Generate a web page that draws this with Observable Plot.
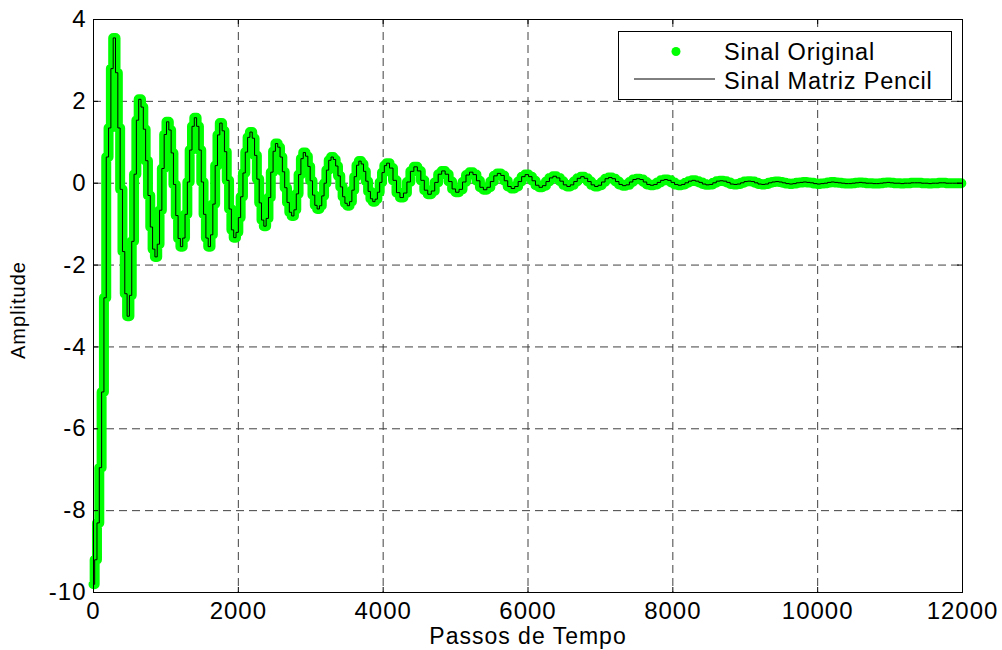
<!DOCTYPE html>
<html>
<head>
<meta charset="utf-8">
<script src="https://cdn.jsdelivr.net/npm/d3@7"></script>
<script src="https://cdn.jsdelivr.net/npm/@observablehq/plot@0.6"></script>
<style>
  html, body { margin: 0; padding: 0; background: #fff; }
  #wrap { position: relative; width: 1002px; height: 650px; overflow: hidden; background: #fff; }
  #legend { position: absolute; left: 618px; top: 31px; width: 334px; height: 69px; box-sizing: border-box;
            border: 1px solid #000; background: #fff; }
  #legend svg { position: absolute; left: 0; top: 0; }
</style>
</head>
<body>
<div id="wrap"></div>
<script>
// Sampled signal, first part: one sample every 32 time steps, starting at 0
const earlySignal = [
  -9.8, -9.2, -8.3, -6.95, -5.1, -2.8, 0.64, 1.35, 2.8, 3.55,
  2.7, 1.35, -0.15, -1.67, -2.7, -3.25,
  -2.74, -1.42, 0.22, 1.54, 2.05,
  1.86, 1.32, 0.55, -0.30, -1.07, -1.61, -1.8,
  -1.49, -0.66, 0.36, 1.19, 1.5,
  1.30, 0.74, -0.03, -0.79, -1.35, -1.55,
  -1.34, -0.76, 0.03, 0.81, 1.39, 1.6,
  1.39, 0.81, 0.03, -0.76, -1.34, -1.55,
  -1.26, -0.51, 0.43, 1.18, 1.47,
  1.28, 0.77, 0.07, -0.63, -1.14, -1.33,
  -1.20, -0.84, -0.33, 0.25, 0.76, 1.12, 1.25,
  1.10, 0.68, 0.10, -0.48, -0.90, -1.05,
  -0.86, -0.35, 0.27, 0.78, 0.97,
  0.88, 0.64, 0.28, -0.11, -0.47, -0.71, -0.8,
  -0.65, -0.26, 0.21, 0.60, 0.75,
  0.66, 0.41, 0.06, -0.29, -0.54, -0.63,
  -0.55, -0.31, 0.00, 0.32, 0.56, 0.64,
  0.58, 0.42, 0.18, -0.09, -0.33, -0.49, -0.55,
  -0.45, -0.17, 0.16, 0.44, 0.54,
  0.47, 0.29, 0.05, -0.20, -0.38, -0.45,
  -0.39, -0.22, 0.02, 0.26, 0.43, 0.49
];
const earlyStep = 32;

// Sampled signal, second part: one sample every 48 time steps, starting at 4112
const lateSignal = [
  0.37, 0.07, -0.23, -0.35, -0.24, 0.03, 0.29, 0.40,
  0.30, 0.07, -0.17, -0.27, -0.19, 0.02, 0.22, 0.30,
  0.22, 0.04, -0.14, -0.22, -0.15, 0.03, 0.20, 0.27,
  0.21, 0.06, -0.10, -0.16, -0.10, 0.04, 0.18, 0.24,
  0.19, 0.06, -0.08, -0.13, -0.08, 0.04, 0.16, 0.21,
  0.16, 0.06, -0.05, -0.10, -0.06, 0.04, 0.13, 0.17,
  0.13, 0.05, -0.04, -0.08, -0.04, 0.04, 0.12, 0.16,
  0.12, 0.04, -0.04, -0.08, -0.05, 0.03, 0.11, 0.14,
  0.11, 0.04, -0.03, -0.06, -0.04, 0.03, 0.09, 0.11,
  0.09, 0.03, -0.03, -0.05, -0.03, 0.02, 0.07, 0.09,
  0.07, 0.02, -0.03, -0.05, -0.03, 0.01, 0.05, 0.07,
  0.05, 0.02, -0.02, -0.04, -0.03, 0.01, 0.05, 0.06,
  0.05, 0.02, -0.02, -0.03, -0.02, 0.01, 0.04, 0.05,
  0.04, 0.01, -0.02, -0.03, -0.02, 0.01, 0.03, 0.04,
  0.03, 0.01, -0.01, -0.02, -0.01, 0.01, 0.02, 0.03,
  0.02, 0.01, -0.01, -0.02, -0.01, 0.00, 0.02, 0.03,
  0.02, 0.01, 0.00, -0.01, -0.01, 0.00, 0.01, 0.02,
  0.01, 0.00, 0.00, -0.01, -0.01, 0.00, 0.01, 0.02,
  0.01, 0.00, 0.00, -0.01, 0.00, 0.00, 0.01, 0.01,
  0.01, 0.00, 0.00, -0.01, 0.00, 0.00, 0.01, 0.01,
  0.00, 0.00, 0.00, 0.00, 0.00
];
const lateStart = 4112;
const lateStep = 48;

const xTicks = [0, 2000, 4000, 6000, 8000, 10000, 12000];
const yTicks = [-10, -8, -6, -4, -2, 0, 2, 4];
const seriesNames = ["Sinal Original", "Sinal Matriz Pencil"];
const xLabel = "Passos de Tempo";
const yLabel = "Amplitude";

const data = [
  ...earlySignal.map((v, i) => ({t: i * earlyStep, v})),
  ...lateSignal.map((v, j) => ({t: lateStart + j * lateStep, v}))
];

const W = 1002, H = 650;
const mL = 93, mR = 40, mT = 19, mB = 58;
const plotW = W - mL - mR, plotH = H - mT - mB;
const tick = 5;
const GREEN = "#00ff00";

const chart = Plot.plot({
  width: W, height: H,
  marginLeft: mL, marginRight: mR, marginTop: mT, marginBottom: mB,
  x: {domain: [0, 12000]},
  y: {domain: [-10, 4]},
  style: {fontFamily: "'Liberation Sans', Arial, Helvetica, sans-serif", fontSize: "24px",
          background: "#fff", color: "#000", overflow: "visible", letterSpacing: "1px"},
  marks: [
    Plot.gridX(xTicks, {stroke: "#404040", strokeOpacity: 1, strokeDasharray: "8,5", strokeWidth: 1}),
    Plot.gridY(yTicks, {stroke: "#404040", strokeOpacity: 1, strokeDasharray: "8,5", strokeWidth: 1}),
    Plot.line(data, {x: "t", y: "v", curve: "step", stroke: GREEN, strokeWidth: 10,
                     strokeLinejoin: "round", strokeLinecap: "round"}),
    Plot.line(data, {x: "t", y: "v", curve: "step", stroke: "#000", strokeWidth: 1}),
    Plot.frame({stroke: "#000", strokeWidth: 1}),
    Plot.ruleX(xTicks, {insetTop: plotH - tick, stroke: "#000"}),
    Plot.ruleX(xTicks, {insetBottom: plotH - tick, stroke: "#000"}),
    Plot.ruleY(yTicks, {insetRight: plotW - tick, stroke: "#000"}),
    Plot.ruleY(yTicks, {insetLeft: plotW - tick, stroke: "#000"}),
    Plot.axisX(xTicks, {tickSize: 0, tickPadding: 9, label: null, tickFormat: d => String(d)}),
    Plot.axisY(yTicks, {tickSize: 0, tickPadding: 7, label: null, tickFormat: d => String(d)}),
    Plot.text([xLabel], {text: d => d, frameAnchor: "bottom", lineAnchor: "top", textAnchor: "middle",
                         dy: 35, fontSize: 23}),
    Plot.text([yLabel], {text: d => d, frameAnchor: "left", lineAnchor: "middle", textAnchor: "middle",
                         rotate: -90, dx: -75, dy: 4, fontSize: 20})
  ]
});

const wrap = document.getElementById("wrap");
wrap.appendChild(chart);

// Legend
const legend = document.createElement("div");
legend.id = "legend";
legend.innerHTML = `
<svg width="334" height="69" xmlns="http://www.w3.org/2000/svg"
     style="font-family:'Liberation Sans', Arial, Helvetica, sans-serif;font-size:23.5px;letter-spacing:0.8px">
  <circle cx="57" cy="19.5" r="4.5" fill="${GREEN}"></circle>
  <line x1="15" x2="96" y1="47" y2="47" stroke="#000" stroke-width="1"></line>
  <text x="105" y="28" fill="#000">${seriesNames[0]}</text>
  <text x="105" y="57" fill="#000">${seriesNames[1]}</text>
</svg>`;
wrap.appendChild(legend);
</script>
</body>
</html>
